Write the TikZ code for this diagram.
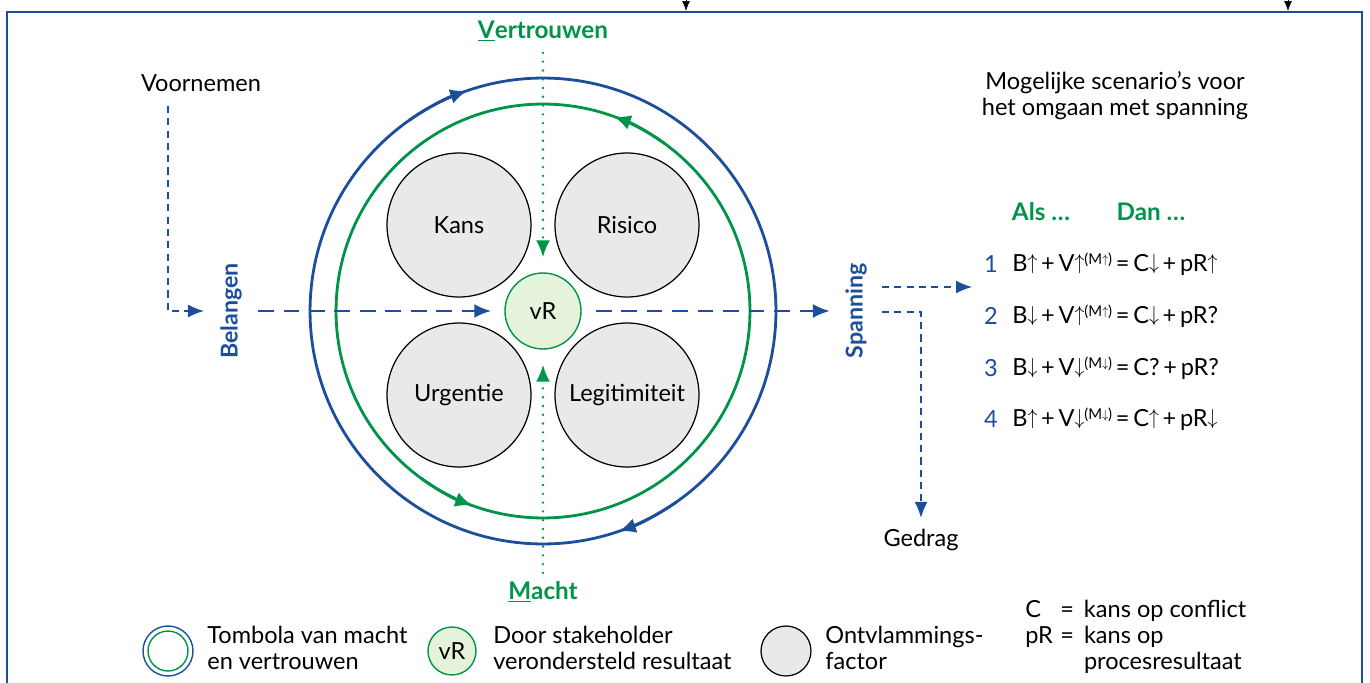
\documentclass[tikz,border=0pt]{standalone}
\usepackage{graphicx}
\usepackage{fontspec}
\setmainfont{Lato}
\usetikzlibrary{arrows.meta}
\usetikzlibrary{positioning}

\definecolor{tombblue}{HTML}{1C4E9B}
\definecolor{tombgreen}{HTML}{00944A}
\definecolor{factorgray}{HTML}{E8EAE9}
\definecolor{vrfill}{HTML}{E5F3DA}

\newcommand{\upar}{\raisebox{0.12ex}{\scalebox{0.78}[0.86]{$\uparrow$}}}
\newcommand{\dnar}{\raisebox{0.12ex}{\scalebox{0.78}[0.86]{$\downarrow$}}}
\newcommand{\supm}[1]{\raisebox{0.6ex}{\fontsize{8.5}{8.5}\selectfont(M#1)}}
\newcommand{\plus}{\hspace{0.16em}+\hspace{0.16em}}
\newcommand{\is}{\hspace{0.16em}=\hspace{0.16em}}

\tikzset{
  txt/.style={font=\fontsize{13.4}{14.8}\selectfont, inner sep=0pt},
  axislabel/.style={font=\fontsize{13.8}{15}\selectfont\bfseries, text=tombgreen, inner sep=0pt},
  flowlabel/.style={font=\fontsize{13.2}{15}\selectfont\bfseries, text=tombblue, rotate=90, inner sep=0pt},
  factor/.style={circle, draw=black, line width=0.7pt, fill=factorgray, minimum size=2.88cm, inner sep=0pt, txt},
  result/.style={circle, draw=tombgreen, line width=0.8pt, fill=vrfill, minimum size=1.52cm, inner sep=0pt, txt},
  bigflow/.style={tombblue, line width=1.6pt, dash pattern=on 9pt off 5.5pt, -{Latex[length=0.34cm,width=0.28cm]}},
  smallflow/.style={tombblue, line width=0.8pt, dash pattern=on 4pt off 3pt, -{Latex[length=0.32cm,width=0.26cm]}},
  axisflow/.style={tombgreen, line width=1.5pt, dash pattern=on 0pt off 5pt, line cap=round, -{Latex[length=0.34cm,width=0.28cm]}},
  ringarrow/.style={line width=1.6pt, -{Latex[length=0.34cm,width=0.3cm]}},
}

\begin{document}
\begin{tikzpicture}[x=0.02cm,y=0.02cm]
\useasboundingbox (0,0) rectangle (1370,-683);
\draw[tombblue,line width=1.5pt] (7,-683) -- (7,-12) -- (1362,-12) -- (1362,-683);
\coordinate (topa) at (686,2);
\coordinate (topb) at (1288,2);
\draw[-{Latex[length=0.2cm,width=0.16cm]}] (topa) -- ++(0,-13);
\draw[-{Latex[length=0.2cm,width=0.16cm]}] (topb) -- ++(0,-13);

% tombola
\coordinate (tomb) at (543,-311);
\draw[tombblue,line width=1.6pt] (tomb) circle[radius=4.66cm];
\draw[tombgreen,line width=1.6pt] (tomb) circle[radius=4.14cm];
\draw[tombblue,ringarrow] (tomb) ++(125:4.66cm) arc[start angle=125,end angle=109,radius=4.66cm];
\draw[tombblue,ringarrow] (tomb) ++(-55:4.66cm) arc[start angle=-55,end angle=-71,radius=4.66cm];
\draw[tombgreen,ringarrow] (tomb) ++(54:4.14cm) arc[start angle=54,end angle=70,radius=4.14cm];
\draw[tombgreen,ringarrow] (tomb) ++(-126:4.14cm) arc[start angle=-126,end angle=-110,radius=4.14cm];

\node[factor] (kans) at (459,-225) {Kans};
\node[factor] (risico) at (627,-225) {Risico};
\node[factor] (urgentie) at (459,-395) {Urgentie};
\node[factor] (legit) at (627,-395) {Legitimiteit};
\node[result] (vr) at (tomb) {vR};

\node[axislabel] (vertrouwen) at (543,-31) {\underline{V}ertrouwen};
\node[axislabel] (macht) at (543,-592) {\underline{M}acht};
\draw[axisflow,shorten <=0.22cm,shorten >=0.3cm] (vertrouwen.south) -- (vr.north);
\draw[axisflow,shorten <=0.16cm,shorten >=0.3cm] (macht.north) -- (vr.south);

% stroom van voornemen naar gedrag
\node[txt] (voornemen) at (201,-83) {Voornemen};
\node[flowlabel] (belangen) at (231,-311) {Belangen};
\node[flowlabel] (spanning) at (856,-311) {Spanning};
\node[txt] (gedrag) at (921,-540) {Gedrag};
\coordinate (vstart) at (168,-106);
\draw[smallflow,shorten >=0.32cm] (vstart) |- (belangen.north);
\draw[bigflow,shorten <=0.32cm,shorten >=0.26cm] (belangen.south) -- (vr.west);
\draw[bigflow,shorten <=0.28cm,shorten >=0.3cm] (vr.east) -- (spanning.north);
\coordinate (sout1) at (882,-287);
\coordinate (sout2) at (882,-312);
\coordinate (scen) at (972,-287);
\draw[smallflow] (sout1) -- (scen);
\draw[smallflow,shorten >=0.22cm] (sout2) -| (gedrag.north);

% scenario's
\node[txt,align=center] (scenkop) at (1115,-96) {Mogelijke scenario’s voor\\het omgaan met spanning};
\node[axislabel] (als) at (1041,-212) {Als \dots};
\node[axislabel] (dan) at (1151,-212) {Dan \dots};
\foreach \n/\yy/\eq in {
  1/264/{B\upar\plus V\upar\supm{\upar}\is C\dnar\plus pR\upar},
  2/316/{B\dnar\plus V\upar\supm{\upar}\is C\dnar\plus pR?},
  3/368/{B\dnar\plus V\dnar\supm{\dnar}\is C?\plus pR?},
  4/419/{B\upar\plus V\dnar\supm{\dnar}\is C\upar\plus pR\dnar}}{
  \node[txt,text=tombblue] (nr\n) at (991,-\yy) {\n};
  \node[txt,anchor=west] (eq\n) at (1012,-\yy) {\eq};
}

% legenda
\node[circle,draw=tombblue,line width=0.8pt,minimum size=1.0cm,inner sep=0pt] (legtomb) at (168,-651) {};
\draw[tombgreen,line width=0.8pt] (legtomb.center) circle[radius=0.4cm];
\node[txt,anchor=west,align=left] (legtombtxt) at (207,-648) {Tombola van macht\\en vertrouwen};
\node[result,minimum size=0.96cm] (legvr) at (452,-651) {vR};
\node[txt,anchor=west,align=left] (legvrtxt) at (493,-648) {Door stakeholder\\verondersteld resultaat};
\node[factor,minimum size=1.0cm] (legfac) at (786,-651) {};
\node[txt,anchor=west,align=left] (legfactxt) at (825,-648) {Ontvlammings-\\factor};
\node[txt,anchor=west] (afk) at (1025,-638) {%
  \def\arraystretch{1}\begin{tabular}{@{}p{0.7cm}@{}l@{\hspace{0.2cm}}l@{}}
  C & = & kans op conflict\\
  pR & = & kans op\\
  & & procesresultaat
  \end{tabular}};
\end{tikzpicture}
\end{document}
